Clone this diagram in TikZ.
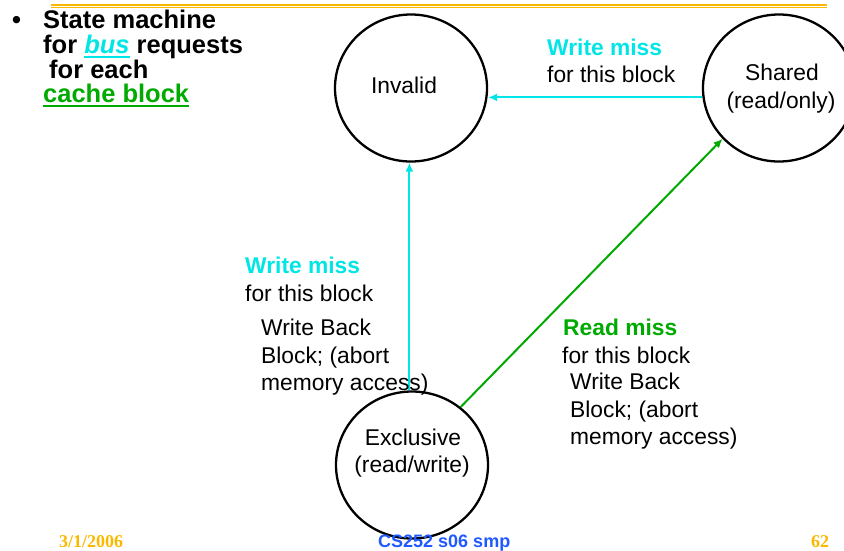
\documentclass[tikz,border=0pt]{standalone}
\usepackage{fontspec}
\setmainfont{Liberation Sans}
\newfontfamily\footserif{Liberation Serif}
\usetikzlibrary{shapes.geometric,arrows.meta}
\definecolor{cyanc}{RGB}{0,230,230}
\definecolor{greenc}{RGB}{0,170,0}
\definecolor{goldc}{RGB}{250,185,0}
\definecolor{bluec}{RGB}{30,90,255}
\newcommand\myuline[1]{\vtop{\hbox{#1}\kern2.6pt\hrule height 2.2pt}}
\begin{document}
\begin{tikzpicture}[x=1pt,y=-1pt,
  state/.style={ellipse,draw,line width=2.3pt,minimum width=152pt,minimum height=147pt,inner sep=0pt},
  txt/.style={anchor=base west,inner sep=0pt,font=\fontsize{22.8}{27}\selectfont},
  ctxt/.style={anchor=base,inner sep=0pt,font=\fontsize{22.8}{27}\selectfont},
  ttl/.style={anchor=base west,inner sep=0pt,font=\fontsize{25.5}{25}\selectfont\bfseries},
  foot/.style={anchor=base west,inner sep=0pt,font=\fontsize{18}{20}\selectfont\bfseries},
  trans/.style={line width=2pt,-{Latex[length=9pt,width=8pt]}},
  rulegold/.style={goldc,line width=1.5pt}]
\useasboundingbox (0,0) rectangle (844,550);
% top rule
\coordinate (r1a) at (51,5);   \coordinate (r1b) at (827,5);
\coordinate (r2a) at (51,7.8); \coordinate (r2b) at (827,7.8);
\draw[rulegold] (r1a) -- (r1b);
\draw[rulegold,line width=1.3pt] (r2a) -- (r2b);
% title
\node[ttl] (bullet) at (12,28) {•};
\node[ttl] (t1) at (43,28) {State machine};
\node[ttl] (t2) at (43,53) {for {\color{cyanc}\myuline{\itshape bus}} requests};
\node[ttl] (t3) at (49,78) {for each};
\node[ttl,text=greenc] (t4) at (43,102) {\myuline{cache block}};
% states
\node[state] (invalid) at (411,88) {};
\node[state] (shared) at (779,88) {};
\node[state] (exclusive) at (412,465) {};
\node[ctxt] (invtxt) at (404,93) {Invalid};
\node[ctxt] (shtxt1) at (782,80) {Shared};
\node[ctxt] (shtxt2) at (781,108) {(read/only)};
\node[ctxt] (extxt1) at (413,445) {Exclusive};
\node[ctxt] (extxt2) at (412,472) {(read/write)};
% transitions
\draw[trans,cyanc] (shared.187) -- (shared.187 -| invalid.east);
\draw[trans,cyanc] (exclusive.92) -- (exclusive.92 |- invalid.south);
\draw[trans,greenc] (exclusive.50) -- (shared.222);
% labels
\node[txt,text=cyanc,font=\fontsize{22.8}{27}\selectfont\bfseries] (l1a) at (547,55) {Write miss};
\node[txt] (l1b) at (547,82) {for this block};
\node[txt,text=cyanc,font=\fontsize{22.8}{27}\selectfont\bfseries] (l2a) at (245,273) {Write miss};
\node[txt] (l2b) at (245,301) {for this block};
\node[txt] (l2c) at (261,335) {Write Back};
\node[txt] (l2d) at (261,363) {Block; (abort};
\node[txt] (l2e) at (261,390) {memory access)};
\node[txt,text=greenc,font=\fontsize{22.8}{27}\selectfont\bfseries] (l3a) at (563,335) {Read miss};
\node[txt] (l3b) at (562,363) {for this block};
\node[txt] (l3c) at (570,389) {Write Back};
\node[txt] (l3d) at (570,417) {Block; (abort};
\node[txt] (l3e) at (570,444) {memory access)};
% footer
\node[foot,text=goldc,font=\fontsize{18}{20}\selectfont\footserif\bfseries] (date) at (59,547) {3/1/2006};
\node[foot,text=bluec] (course) at (378,547) {CS252 s06 smp};
\node[foot,text=goldc,font=\fontsize{18}{20}\selectfont\footserif\bfseries] (page) at (811,547) {62};
\end{tikzpicture}
\end{document}
